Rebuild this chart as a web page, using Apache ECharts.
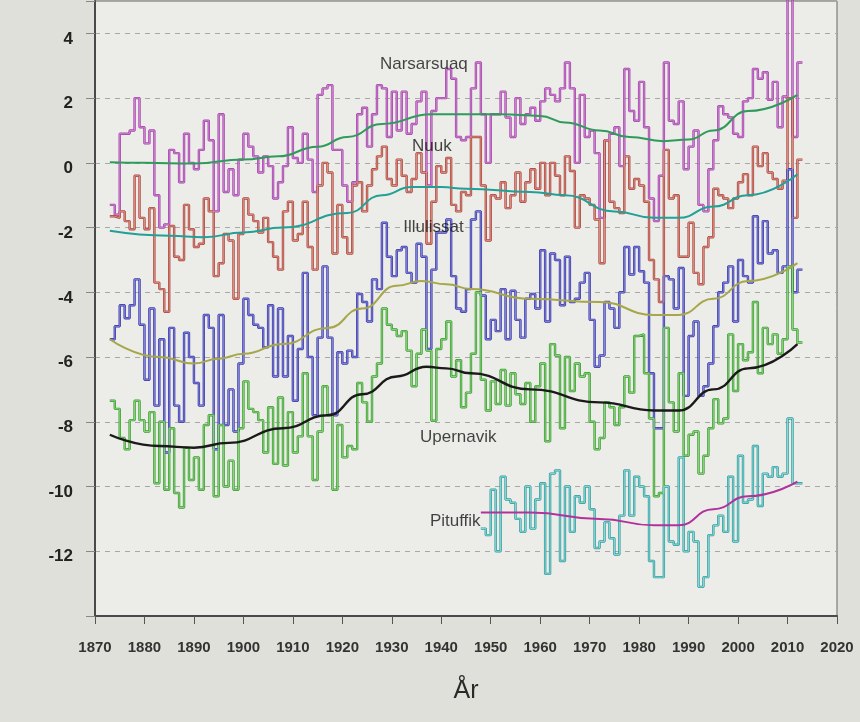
<!DOCTYPE html>
<html>
<head>
<meta charset="utf-8">
<script src="https://cdn.jsdelivr.net/npm/echarts@6/dist/echarts.min.js"></script>
<style>
  html, body { margin: 0; padding: 0; background: #e0e0da; }
  #main { width: 860px; height: 722px; }
</style>
</head>
<body>
<div id="main"></div>
<script>
// annual mean temperatures
const startYear = 1873;
const pituffikStart = 1948;

const narsarsuaq = [
  -1.3, -1.6, 0.9, 0.9, 1.0, 2.0, 1.1,
  0.6, 1.0, -1.0, -2.0, -1.9, 0.4, 0.3, -0.6, 0.9, 0.0,
  -0.2, 0.4, 1.3, 0.7, -1.5, 1.5, -0.9, -0.2, -1.0, 0.1,
  0.9, 0.5, 0.2, -0.3, 0.2, -0.1, -1.1, -0.6, -0.1, 1.1,
  0.15, 0.0, 0.9, 0.1, -0.9, 2.1, 2.3, 2.4, 0.4, 0.4,
  -0.7, -1.2, -0.6, 1.5, 1.7, 0.5, 1.5, 2.4, 2.3, 0.8,
  2.2, 1.0, 2.2, 0.9, 1.2, 1.9, 2.2, -0.7, 1.6, 2.0,
  2.0, 2.9, 2.6, 0.8, 0.7, 0.8, 2.3, 3.1, 1.5, 0.0,
  1.5, 1.5, 2.2, 1.4, 0.8, 2.0, 1.2, 1.5, 1.7, 1.3,
  1.9, 2.3, 2.1, 1.9, 2.3, 3.1, 2.3, 0.0, 2.1, 0.8,
  1.0, 0.3, -1.7, 0.7, 0.9, 1.1, -0.1, 2.9, 1.6, 1.3,
  2.5, 1.1, -1.1, -1.8, -0.4, 3.1, 1.3, 1.2, 1.9, -0.2,
  0.5, 1.0, -1.3, -1.5, -0.2, 0.7, 1.75, 1.5, 1.4, 0.9,
  0.8, 1.9, 2.0, 2.9, 2.6, 2.8, 1.95, 2.5, 1.1, 2.05,
  5.1, 0.8, 3.1
];

const nuuk = [
  -1.65, -1.7, -1.5, -1.8, -2.05, -0.4, -1.7,
  -2.05, -1.4, -3.7, -3.9, -4.6, -1.95, -2.9, -3.0, -1.3, -2.05,
  -2.6, -2.5, -1.1, -1.5, -3.5, -3.1, -2.2, -2.4, -4.2, -2.2,
  -1.1, -1.6, -1.8, -2.15, -1.7, -2.45, -2.9, -3.3, -1.5, -1.2,
  -2.4, -2.2, -1.2, -2.6, -3.3, -0.7, 0.0, -0.3, -2.8, -1.3,
  -2.3, -2.8, -0.7, -0.6, -1.5, -0.7, -0.2, 0.2, 0.5, -0.5,
  -0.7, 0.1, -0.4, -0.9, -0.5, 0.3, -0.3, -2.5, -1.2, -0.1,
  -0.3, 0.15, -1.3, -1.5, -0.9, -1.0, 0.8, 0.8, -0.7, -2.4,
  -1.0, -1.1, -0.6, -1.4, -1.0, -0.3, -1.2, -0.6, -0.2, -0.8,
  0.0, -1.0, 0.0, -0.4, -1.0, 0.2, -0.25, -2.0, -1.0, -1.1,
  -1.3, -1.75, -3.1, 0.7, -1.2, -1.4, -1.55, 0.2, -0.8, -0.5,
  -0.7, -1.2, -3.0, -3.6, -4.3, 0.4, -1.1, -1.0, -2.9, -2.9,
  -1.85, -3.4, -3.75, -2.6, -2.3, -0.8, -1.0, -1.1, -1.4, -1.1,
  -0.6, -0.35, -1.0, 0.5, -0.1, 0.3, -0.3, -0.5, -0.8, -0.55,
  2.0, -1.7, 0.1
];

const ilulissat = [
  -5.45, -5.05, -4.4, -4.8, -4.4, -3.6, -5.0,
  -6.7, -4.5, -7.5, -5.45, -8.95, -5.1, -7.5, -8.0, -5.25, -6.0,
  -6.8, -7.5, -4.7, -5.1, -8.85, -4.7, -8.1, -7.0, -8.3, -6.2,
  -4.2, -4.7, -5.0, -5.1, -5.7, -4.4, -6.6, -4.5, -6.6, -5.35,
  -7.35, -5.75, -3.4, -6.0, -7.8, -5.4, -3.2, -5.4, -7.8, -5.85,
  -6.2, -5.8, -6.0, -4.05, -4.3, -4.9, -3.6, -3.9, -1.85, -2.9,
  -3.5, -2.7, -2.6, -3.4, -3.7, -2.5, -2.9, -5.75, -3.3, -2.15,
  -2.15, -1.75, -3.5, -4.5, -4.6, -3.9, -1.75, -1.5, -4.1, -5.45,
  -4.85, -5.2, -3.9, -5.45, -3.95, -4.85, -5.4, -4.2, -4.05, -4.5,
  -2.7, -4.9, -2.8, -3.0, -4.4, -2.9, -4.3, -4.2, -3.7, -3.4,
  -4.85, -6.3, -5.95, -4.3, -4.5, -5.1, -4.0, -2.6, -3.45, -2.6,
  -3.35, -3.7, -6.5, -8.2, -8.2, -3.5, -3.6, -4.5, -3.25, -7.2,
  -5.35, -4.9, -7.2, -6.9, -6.2, -5.05, -4.0, -3.7, -3.2, -4.9,
  -3.0, -3.5, -3.7, -1.65, -3.1, -1.8, -2.8, -2.7, -3.4, -3.2,
  -0.2, -4.0, -3.3
];

const upernavik = [
  -7.35, -7.6, -8.5, -8.85, -7.95, -7.35, -7.95,
  -8.3, -7.7, -9.9, -8.0, -10.1, -8.2, -10.2, -10.65, -8.8, -9.8,
  -9.1, -10.1, -8.1, -7.8, -10.3, -8.1, -10.0, -9.2, -10.1, -8.2,
  -6.75, -7.6, -7.7, -7.95, -8.95, -7.55, -9.3, -7.25, -9.35, -7.7,
  -8.95, -8.45, -6.5, -8.45, -9.8, -8.3, -6.9, -7.8, -10.1, -8.1,
  -9.1, -8.75, -8.85, -6.8, -7.4, -8.0, -6.6, -6.2, -4.5, -5.0,
  -5.15, -5.35, -5.2, -5.8, -6.9, -5.9, -5.15, -5.8, -7.97, -5.75,
  -5.45, -4.9, -6.6, -6.1, -7.55, -7.1, -5.9, -4.0, -6.7, -7.65,
  -6.75, -7.45, -6.4, -7.5, -6.5, -7.15, -7.45, -6.8, -8.0, -6.9,
  -6.2, -8.6, -5.6, -5.95, -8.2, -6.0, -7.05, -6.2, -6.6, -6.5,
  -8.0, -8.85, -8.5, -7.4, -7.55, -8.1, -7.55, -6.6, -7.1, -5.35,
  -5.3, -6.5, -7.9, -10.3, -10.2, -5.1, -7.4, -8.3, -6.5, -9.05,
  -8.4, -8.3, -9.6, -9.05, -8.2, -7.3, -8.05, -7.9, -5.3, -7.05,
  -5.6, -6.1, -5.85, -4.3, -6.5, -5.1, -5.6, -5.3, -5.9, -5.45,
  -3.2, -5.15, -5.55
];

const pituffik = [
  -11.3, -11.5,
  -10.1, -12.0, -9.7, -10.4, -10.5, -11.0, -11.4, -10.0, -11.3, -10.4,
  -9.9, -12.7, -9.6, -9.5, -12.3, -10.0, -11.4, -10.3, -10.5, -10.0,
  -10.7, -11.9, -11.7, -11.1, -11.6, -12.1, -10.9, -9.5, -10.9, -9.7,
  -10.0, -10.3, -12.3, -12.8, -12.8, -10.0, -11.7, -11.8, -9.1, -12.0,
  -11.4, -11.7, -13.1, -12.8, -11.5, -11.2, -10.9, -11.4, -9.7, -11.7,
  -9.05, -10.5, -10.4, -8.75, -10.6, -9.6, -9.7, -9.4, -9.7, -9.6,
  -7.9, -9.9, -9.9
];

// smoothed curves, read at a few years
const narsarsuaqTrendYears = [1873, 1880, 1890, 1900, 1907, 1915, 1921, 1928, 1938, 1945, 1952, 1960, 1965, 1972, 1978, 1985, 1990, 1995, 2002, 2012];
const narsarsuaqTrend = [0.02, 0.0, -0.02, 0.1, 0.2, 0.5, 0.8, 1.2, 1.5, 1.5, 1.5, 1.45, 1.25, 1.0, 0.8, 0.67, 0.72, 1.0, 1.6, 2.1];
const nuukTrendYears = [1873, 1885, 1892, 1900, 1908, 1921, 1928, 1934, 1940, 1945, 1958, 1965, 1975, 1983, 1988, 1995, 2002, 2012];
const nuukTrend = [-2.1, -2.25, -2.3, -2.15, -2.0, -1.55, -1.0, -0.75, -0.75, -0.8, -0.9, -1.0, -1.5, -1.7, -1.7, -1.35, -1.0, -0.35];
const ilulissatTrendYears = [1873, 1883, 1890, 1895, 1900, 1908, 1917, 1924, 1931, 1936, 1941, 1946, 1958, 1972, 1983, 1988, 1995, 2002, 2012];
const ilulissatTrend = [-5.45, -6.0, -6.2, -6.05, -5.9, -5.6, -5.1, -4.5, -3.8, -3.65, -3.75, -3.9, -4.2, -4.3, -4.7, -4.7, -4.2, -3.65, -3.1];
const upernavikTrendYears = [1873, 1883, 1890, 1897, 1908, 1917, 1924, 1931, 1937, 1941, 1946, 1958, 1972, 1983, 1988, 1995, 2002, 2012];
const upernavikTrend = [-8.4, -8.75, -8.8, -8.65, -8.2, -7.8, -7.15, -6.6, -6.3, -6.35, -6.5, -7.0, -7.4, -7.65, -7.65, -7.0, -6.35, -5.6];
const pituffikTrendYears = [1948, 1958, 1972, 1983, 1988, 1995, 2002, 2012];
const pituffikTrend = [-10.8, -10.8, -11.0, -11.2, -11.2, -10.7, -10.3, -9.85];

const stationNames = ['Narsarsuaq', 'Nuuk', 'Illulissat', 'Upernavik', 'Pituffik'];
// where the station names sit (year, value at left edge of text)
const labelYears = [1927.6, 1934.1, 1932.3, 1935.7, 1937.7];
const labelValues = [3.05, 0.52, -1.98, -8.47, -11.07];

const xTicks = { min: 1870, max: 2020, step: 10 };
const yTicks = { min: -14, max: 5, step: 2 };

function stepData(first, vals) {
    let d = vals.map(function (v, i) { return [first + i, v]; });
    // close the last year so its step has a width
    d.push([first + vals.length, vals[vals.length - 1]]);
    return d;
}

function trendData(years, vals) {
    return years.map(function (y, i) { return [y, vals[i]]; });
}

function stepSeries(name, data, dark, light) {
    return [{
        name: name,
        type: 'line',
        step: 'end',
        data: data,
        showSymbol: false,
        silent: true,
        z: 2,
        lineStyle: { color: dark, width: 2.4 }
    }, {
        name: name + '_in',
        type: 'line',
        step: 'end',
        data: data,
        showSymbol: false,
        silent: true,
        z: 3,
        lineStyle: { color: light, width: 1 }
    }];
}

function trendSeries(name, data, color, width) {
    return {
        name: name,
        type: 'line',
        data: data,
        smooth: 0.5,
        smoothMonotone: 'x',
        showSymbol: false,
        silent: true,
        z: 5,
        lineStyle: { color: color, width: width }
    };
}

let chart = echarts.init(document.getElementById('main'));

let series = [].concat(
    stepSeries('Narsarsuaq', stepData(startYear, narsarsuaq), '#9c48a4', '#d67cd8'),
    stepSeries('Nuuk', stepData(startYear, nuuk), '#a4483e', '#e48a80'),
    stepSeries('Illulissat', stepData(startYear, ilulissat), '#3838a2', '#8484e4'),
    stepSeries('Upernavik', stepData(startYear, upernavik), '#3a9832', '#88d878'),
    stepSeries('Pituffik', stepData(pituffikStart, pituffik), '#329898', '#84dcdc'),
    [
        trendSeries('NarsarsuaqTrend', trendData(narsarsuaqTrendYears, narsarsuaqTrend), '#2f9a5c', 2),
        trendSeries('NuukTrend', trendData(nuukTrendYears, nuukTrend), '#22a096', 2),
        trendSeries('IlulissatTrend', trendData(ilulissatTrendYears, ilulissatTrend), '#a6a64a', 2),
        trendSeries('UpernavikTrend', trendData(upernavikTrendYears, upernavikTrend), '#1a1a1a', 2.4),
        trendSeries('PituffikTrend', trendData(pituffikTrendYears, pituffikTrend), '#b0339c', 2),
        {
            name: 'labels',
            type: 'scatter',
            symbolSize: 0,
            silent: true,
            z: 10,
            data: stationNames.map(function (n, i) { return [labelYears[i], labelValues[i], n]; }),
            label: {
                show: true,
                position: 'right',
                distance: 0,
                formatter: function (p) { return p.data[2]; },
                fontFamily: 'Liberation Sans, Arial, sans-serif',
                fontSize: 17,
                color: '#161616'
            }
        }
    ]
);

let option = {
    backgroundColor: '#e0e0da',
    animation: false,
    grid: {
        left: 95,
        right: 23,
        top: 1,
        bottom: 106,
        show: true,
        backgroundColor: '#ecece8',
        borderColor: '#666',
        borderWidth: 1
    },
    xAxis: {
        type: 'value',
        min: xTicks.min,
        max: xTicks.max,
        interval: xTicks.step,
        name: 'År',
        nameLocation: 'middle',
        nameGap: 63,
        nameTextStyle: {
            fontFamily: 'Liberation Sans, Arial, sans-serif',
            fontSize: 25,
            color: '#2a2a2a'
        },
        axisLine: { onZero: false, lineStyle: { color: '#4a4a4a', width: 2 } },
        axisTick: { length: 8, lineStyle: { color: '#555' } },
        axisLabel: {
            margin: 24,
            fontFamily: 'Liberation Sans, Arial, sans-serif',
            fontSize: 15,
            fontWeight: 'bold',
            color: '#333',
            formatter: function (v) { return String(v); }
        },
        splitLine: { show: false }
    },
    yAxis: {
        type: 'value',
        min: yTicks.min,
        max: yTicks.max,
        interval: yTicks.step,
        axisLine: { show: true, onZero: false, lineStyle: { color: '#4a4a4a', width: 2 } },
        axisTick: { show: true, length: 9, lineStyle: { color: '#888' } },
        axisLabel: {
            margin: 22,
            fontFamily: 'Liberation Sans, Arial, sans-serif',
            fontSize: 17,
            fontWeight: 'bold',
            color: '#222',
            verticalAlign: 'top',
            lineHeight: 11,
            formatter: function (v) {
                if (v <= yTicks.min || v > 4) return '';
                return String(v);
            }
        },
        splitLine: { show: true, lineStyle: { color: '#a8a8a8', type: [5, 5], width: 1 } }
    },
    series: series
};

chart.setOption(option);
</script>
</body>
</html>
